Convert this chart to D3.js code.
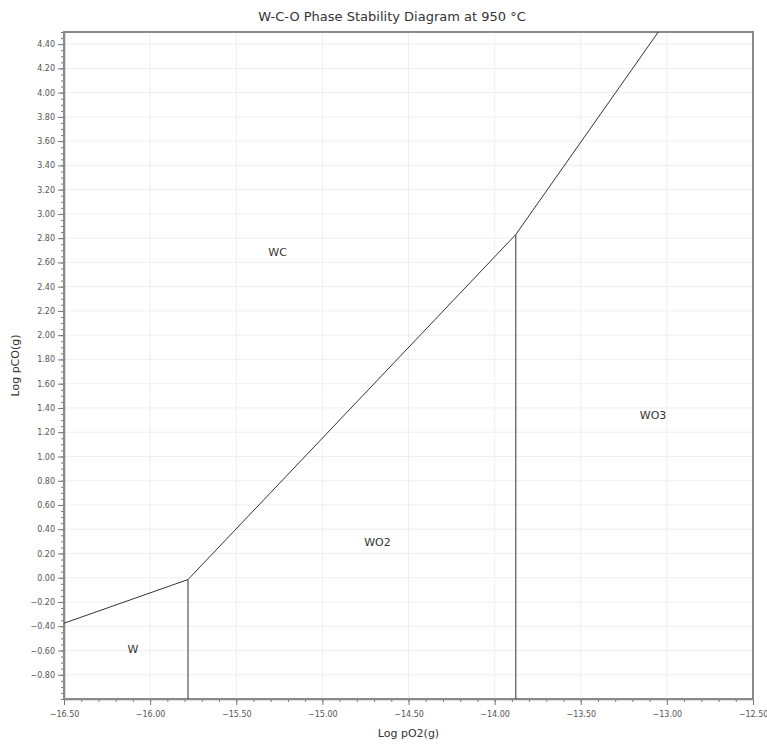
<!DOCTYPE html>
<html><head><meta charset="utf-8">
<script src="https://cdn.jsdelivr.net/npm/d3@7"></script>
<style>body{margin:0;background:#fff;}svg{display:block;}</style>
</head><body>
<svg id="chart" width="767" height="744"></svg>
<script>
// Data
const xDomain = [-16.5, -12.5];
const yDomain = [-1.0, 4.5];
const xTicks = [-16.5, -16.0, -15.5, -15.0, -14.5, -14.0, -13.5, -13.0, -12.5];
const yTicks = [-0.8,-0.6,-0.4,-0.2,0.0,0.2,0.4,0.6,0.8,1.0,1.2,1.4,1.6,1.8,2.0,2.2,2.4,2.6,2.8,3.0,3.2,3.4,3.6,3.8,4.0,4.2,4.4];
// Phase boundary lines (log pO2, log pCO)
const boundaryW_WC = [[-16.5, -0.375], [-15.78, -0.015]];
const boundaryW_WO2 = [[-15.78, -0.015], [-15.78, -1.0]];
const boundaryWC_WO2 = [[-15.78, -0.015], [-13.877, 2.83]];
const boundaryWO2_WO3 = [[-13.877, 2.83], [-13.877, -1.0]];
const boundaryWC_WO3 = [[-13.877, 2.83], [-13.05, 4.5]];
const boundaries = [boundaryW_WC, boundaryW_WO2, boundaryWC_WO2, boundaryWO2_WO3, boundaryWC_WO3];
const regionNames = ["WC", "WO2", "WO3", "W"];
const regionX = [-15.26, -14.68, -13.08, -16.1];
const regionY = [2.68, 0.29, 1.33, -0.6];

const svg = d3.select("#chart");
const m = {l:64, r:14, t:32, b:45};
const W = 767, H = 744;
const x = d3.scaleLinear().domain(xDomain).range([m.l, W - m.r]);
const y = d3.scaleLinear().domain(yDomain).range([H - m.b, m.t]);
const font = "Tahoma, 'DejaVu Sans', Verdana, sans-serif";

// grid
svg.append("g").selectAll("line").data(xTicks).join("line")
  .attr("x1", d=>x(d)).attr("x2", d=>x(d)).attr("y1", y(yDomain[0])).attr("y2", y(yDomain[1]))
  .attr("stroke", "#efefef").attr("stroke-width", 1);
svg.append("g").selectAll("line").data(yTicks).join("line")
  .attr("y1", d=>y(d)).attr("y2", d=>y(d)).attr("x1", x(xDomain[0])).attr("x2", x(xDomain[1]))
  .attr("stroke", "#efefef").attr("stroke-width", 1);

// axes
const fmt = d3.format(".2f");
const xAxis = d3.axisBottom(x).tickValues(xTicks).tickFormat(fmt).tickSize(6).tickSizeOuter(0);
const gx = svg.append("g").attr("transform", `translate(0,${y(yDomain[0])})`).call(xAxis);
const xMinor = d3.range(-16.5, -12.45, 0.1);
svg.append("g").attr("transform", `translate(0,${y(yDomain[0])})`)
  .call(d3.axisBottom(x).tickValues(xMinor).tickFormat("").tickSize(3).tickSizeOuter(0))
  .call(g=>g.select(".domain").remove());
const yAxis = d3.axisLeft(y).tickValues(yTicks).tickFormat(fmt).tickSize(6).tickSizeOuter(0);
const gy = svg.append("g").attr("transform", `translate(${x(xDomain[0])},0)`).call(yAxis);
const yMinor = d3.range(-1.0, 4.51, 0.05);
svg.append("g").attr("transform", `translate(${x(xDomain[0])},0)`)
  .call(d3.axisLeft(y).tickValues(yMinor).tickFormat("").tickSize(3).tickSizeOuter(0))
  .call(g=>g.select(".domain").remove());
svg.selectAll(".tick line").attr("stroke", "#777");
svg.selectAll(".domain").attr("stroke", "#777").attr("stroke-width", 1.5);
svg.selectAll(".tick text").attr("font-family", font).attr("font-size", 8).attr("fill", "#555");
gx.selectAll(".tick text").attr("dy", "1.1em");

// frame
svg.append("rect").attr("x", x(xDomain[0])).attr("y", y(yDomain[1]))
  .attr("width", x(xDomain[1]) - x(xDomain[0])).attr("height", y(yDomain[0]) - y(yDomain[1]))
  .attr("fill", "none").attr("stroke", "#8a8a8a").attr("stroke-width", 2);

// boundaries
const line = d3.line().x(d=>x(d[0])).y(d=>y(d[1]));
svg.append("g").selectAll("path").data(boundaries).join("path")
  .attr("d", line).attr("fill", "none").attr("stroke", "#333").attr("stroke-width", 1);

// region labels
svg.append("g").selectAll("text").data(regionNames).join("text")
  .attr("x", (d,i)=>x(regionX[i])).attr("y", (d,i)=>y(regionY[i]))
  .attr("text-anchor", "middle").attr("dominant-baseline", "middle")
  .attr("font-family", font).attr("font-size", 11).attr("fill", "#333").text(d=>d);

// title and axis labels
svg.append("text").attr("x", 392).attr("y", 21).attr("text-anchor", "middle")
  .attr("font-family", font).attr("font-size", 13).attr("fill", "#333")
  .text("W-C-O Phase Stability Diagram at 950 °C");
svg.append("text").attr("x", (x(xDomain[0]) + x(xDomain[1]))/2).attr("y", 737).attr("text-anchor", "middle")
  .attr("font-family", font).attr("font-size", 11).attr("fill", "#333").text("Log pO2(g)");
svg.append("text").attr("transform", `translate(16,${(y(yDomain[0])+y(yDomain[1]))/2}) rotate(-90)`)
  .attr("text-anchor", "middle").attr("dominant-baseline", "middle")
  .attr("font-family", font).attr("font-size", 11).attr("fill", "#333").text("Log pCO(g)");
</script>
</body></html>
